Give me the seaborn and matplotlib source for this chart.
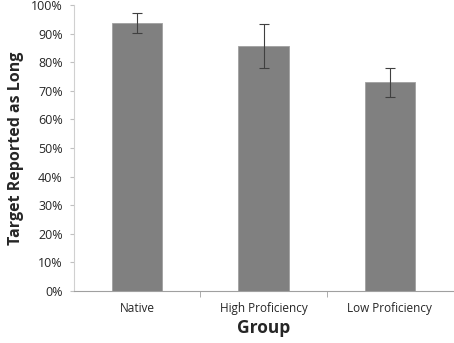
import numpy as np
import pandas as pd
import matplotlib
matplotlib.use("Agg")
import matplotlib.pyplot as plt
import seaborn as sns
from matplotlib.ticker import PercentFormatter, FixedLocator

groups = ["Native", "High Proficiency", "Low Proficiency"]
reported_long = [93.7, 85.5, 73.0]
error = [3.5, 7.7, 5.0]

data = pd.DataFrame({"Group": groups, "Reported": reported_long})

sns.set_style("white")
plt.rcParams["font.family"] = ["Open Sans", "DejaVu Sans"]

fig = plt.figure(figsize=(4.54, 3.43), dpi=100)
ax = fig.add_axes([74 / 454, 52 / 343, 379 / 454, 286 / 343])

sns.barplot(data=data, x="Group", y="Reported", color="#808080", width=0.4,
            errorbar=None, saturation=1, ax=ax, edgecolor="#a0a0a0", linewidth=0.6)
ax.errorbar(np.arange(len(groups)), reported_long, yerr=error, fmt="none",
            ecolor="#404040", elinewidth=0.8, capsize=3.5, capthick=0.8)

ax.set_xlim(-0.5, len(groups) - 0.5)
ax.set_ylim(0, 100)
ax.set_yticks(np.arange(0, 101, 10))
ax.yaxis.set_major_formatter(PercentFormatter(decimals=0))
ax.tick_params(axis="y", labelsize=9, length=3, color="#c0c0c0", pad=5, left=True)
ax.tick_params(axis="x", which="major", labelsize=8.5, length=0, pad=8)
ax.xaxis.set_minor_locator(FixedLocator([0.5, 1.5]))
ax.tick_params(axis="x", which="minor", length=4, color="#a0a0a0", bottom=True)

for side in ["top", "right"]:
    ax.spines[side].set_visible(False)
ax.spines["left"].set_color("#d0d0d0")
ax.spines["bottom"].set_color("#a0a0a0")

ax.set_xlabel("Group", fontsize=12.5, fontweight="bold", labelpad=3)
ax.set_ylabel("Target Reported as Long", fontsize=11.5, fontweight="bold", labelpad=5)

fig.savefig("out.png", dpi=100)
